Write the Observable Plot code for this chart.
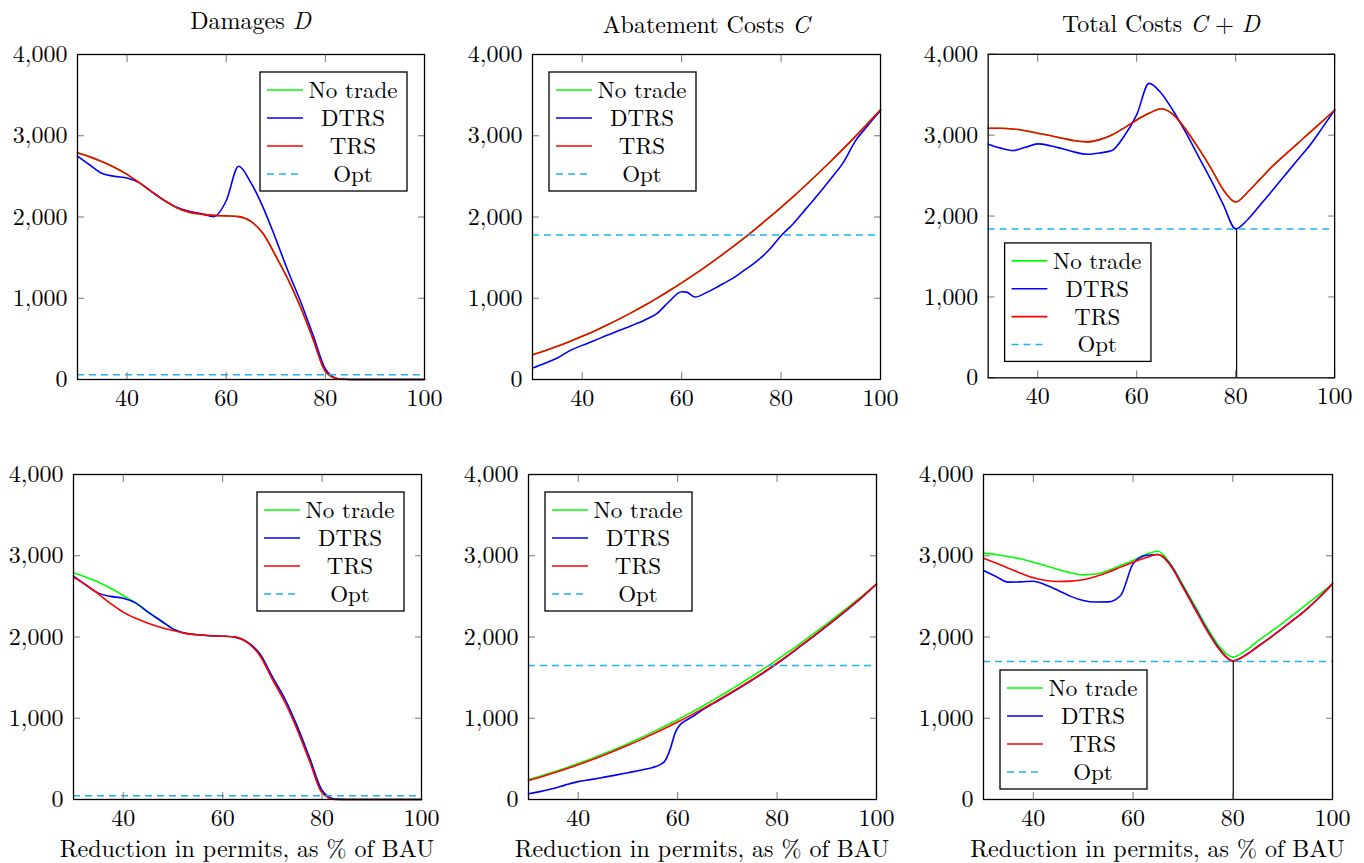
<!DOCTYPE html>
<html><head><meta charset="utf-8">
<script src="https://cdn.jsdelivr.net/npm/d3@7"></script>
<script src="https://cdn.jsdelivr.net/npm/@observablehq/plot@0.6"></script>
<style>
body{margin:0;background:#fff;}
#root{position:relative;width:1364px;height:863px;overflow:hidden;background:#fff;}
.panel{position:absolute;}
#root svg, #root svg text, #root svg tspan{font-family:"Latin Modern Roman","Liberation Serif",serif !important;}
</style></head><body><div id="root"></div>
<script>
// ---------- data ----------
const xTicks = [40, 60, 80, 100];
const yTicks = [0, 1000, 2000, 3000, 4000];
const seriesNames = ["No trade", "DTRS", "TRS", "Opt"];

// Panel 1: Damages D (top)
const p1_x = [30,32.5,35,37.5,40,42.5,45,47.5,50,52.5,55,57.5,60,62.5,65,67.5,70,72.5,75,77.5,80,82.5,85,90,95,100];
const p1_noTrade = [2790,2740,2680,2610,2525,2420,2310,2205,2115,2060,2035,2020,2014,2005,1945,1790,1520,1230,890,500,100,10,0,0,0,0];
const p1_dtrs    = [2750,2640,2535,2500,2480,2420,2310,2205,2120,2070,2040,2005,2200,2625,2420,2110,1730,1330,960,550,130,10,0,0,0,0];
const p1_trs     = [2790,2740,2680,2610,2525,2420,2310,2205,2115,2060,2035,2020,2014,2005,1945,1790,1520,1230,890,500,100,10,0,0,0,0];
const p1_opt = 60;

// Panel 2: Abatement Costs C (top)
const p2_x = [30,32.5,35,37.5,40,42.5,45,47.5,50,52.5,55,57.5,60,62.5,65,67.5,70,72.5,75,77.5,80,82.5,85,87.5,90,92.5,95,97.5,100];
const p2_noTrade = [304,354,409,468,531,598,670,746,826,910,999,1092,1189,1290,1396,1506,1620,1738,1861,1988,2119,2254,2394,2538,2686,2838,2995,3156,3321];
const p2_trs     = [304,354,409,468,531,598,670,746,826,910,999,1092,1189,1290,1396,1506,1620,1738,1861,1988,2119,2254,2394,2538,2686,2838,2995,3156,3321];
const p2_dtrs_x  = [30,32.5,35,37.5,40,42.5,45,47.5,50,52.5,55,57.5,60,61,62.7,65,67.5,70,72.5,75,77.5,80,82.5,85,87.5,90,92.5,95,97.5,100];
const p2_dtrs    = [140,200,265,355,420,480,545,605,665,730,810,960,1080,1075,1015,1070,1150,1235,1340,1450,1590,1770,1920,2100,2280,2470,2670,2940,3130,3310];
const p2_opt = 1780;

// Panel 3: Total Costs C + D (top)
const p3_x = [30,32.5,35,37.5,40,42.5,45,47.5,50,52.5,55,57.5,60,62.5,65,67.5,70,72.5,75,77.5,80,82.5,85,87.5,90,92.5,95,97.5,100];
const p3_noTrade = [3085,3085,3077,3055,3024,2995,2962,2930,2917,2945,3003,3090,3188,3270,3327,3249,3065,2839,2593,2326,2174,2300,2460,2620,2760,2895,3035,3170,3311];
const p3_trs     = [3085,3085,3077,3055,3024,2995,2962,2930,2917,2945,3003,3090,3188,3270,3327,3249,3065,2839,2593,2326,2174,2300,2460,2620,2760,2895,3035,3170,3311];
const p3_dtrs    = [2888,2840,2810,2850,2892,2870,2831,2790,2765,2780,2810,2990,3250,3640,3516,3290,3024,2736,2449,2142,1842,1960,2140,2322,2508,2693,2875,3090,3311];
const p3_opt = 1840;
const p3_optX = 80.2;

// Panel 4: Damages D (bottom)
const p4_x = [30,32.5,35,37.5,40,42.5,45,47.5,50,52.5,55,57.5,60,62.5,65,67.5,70,72.5,75,77.5,80,82.5,85,90,95,100];
const p4_noTrade = [2790,2735,2675,2600,2511,2420,2306,2203,2100,2047,2027,2015,2010,1998,1936,1790,1510,1240,900,510,110,5,0,0,0,0];
const p4_dtrs    = [2750,2640,2540,2500,2478,2420,2306,2203,2100,2047,2027,2015,2010,1998,1936,1790,1510,1240,900,510,110,5,0,0,0,0];
const p4_trs     = [2737,2640,2531,2410,2306,2230,2170,2120,2080,2045,2027,2015,2010,1998,1930,1770,1480,1200,860,470,80,0,0,0,0,0];
const p4_opt = 45;

// Panel 5: Abatement Costs C (bottom)
const p5_x = [30,32.5,35,37.5,40,42.5,45,47.5,50,52.5,55,57.5,60,62.5,65,67.5,70,72.5,75,77.5,80,82.5,85,87.5,90,92.5,95,97.5,100];
const p5_noTrade = [246,290,338,388,442,499,559,622,687,756,829,904,982,1063,1148,1236,1326,1420,1517,1616,1719,1825,1935,2047,2162,2280,2402,2526,2654];
const p5_trs     = [234,278,325,374,427,483,542,604,667,734,805,878,953,1032,1115,1200,1290,1382,1477,1575,1680,1790,1905,2020,2140,2260,2385,2515,2650];
const p5_dtrs_x  = [30,32.5,35,37.5,40,42.5,45,47.5,50,52.5,55,56.5,57.5,58.5,59.5,60.5,62,63.5,65,67.5,70,72.5,75,77.5,80,82.5,85,87.5,90,92.5,95,97.5,100];
const p5_dtrs    = [70,100,135,180,220,245,272,300,330,360,395,430,480,620,820,920,985,1040,1105,1192,1283,1376,1471,1569,1674,1784,1899,2014,2134,2254,2379,2510,2650];
const p5_opt = 1650;

// Panel 6: Total Costs C + D (bottom)
const p6_x = [30,32.5,35,37.5,40,42.5,45,47.5,50,52.5,55,57.5,60,62.5,65,67.5,70,72.5,75,77.5,80,82.5,85,87.5,90,92.5,95,97.5,100];
const p6_noTrade = [3032,3015,2991,2960,2921,2878,2831,2790,2765,2775,2818,2880,2942,3015,3056,2900,2640,2370,2100,1870,1752,1830,1950,2060,2170,2290,2410,2530,2654];
const p6_trs     = [2970,2910,2847,2785,2728,2695,2683,2688,2704,2745,2798,2860,2921,2975,3015,2880,2610,2335,2060,1830,1703,1772,1880,1990,2105,2225,2350,2495,2654];
const p6_dtrs    = [2818,2745,2675,2678,2687,2640,2572,2500,2449,2430,2432,2511,2900,3003,3015,2890,2622,2348,2072,1840,1708,1775,1883,1993,2108,2228,2353,2497,2654];
const p6_opt = 1700;
const p6_optX = 80.1;

// ---------- styling / layout ----------
const GREEN = "#00ff00", BLUE = "#0000ff", RED = "#ff0000", CYAN = "#1fb2ee", TICK = "#777";
const FONT = "Latin Modern Roman, Liberation Serif, serif";
const FS = 24;
const fmt = d3.format(",");

const panels = [
  {frame:[77,424,54,379], title:[["Damages ",false],["D",true]], titleDy:-25,
   series:[[p1_x,p1_noTrade],[p1_x,p1_dtrs],[p1_x,p1_trs]], opt:p1_opt, optX:null, legend:"tr", legendOff:[17,18], xlabel:false},
  {frame:[532,880,54,379], title:[["Abatement Costs ",false],["C",true]], titleDy:-21,
   series:[[p2_x,p2_noTrade],[p2_dtrs_x,p2_dtrs],[p2_x,p2_trs]], opt:p2_opt, optX:null, legend:"tl", legendOff:[17,18], xlabel:false},
  {frame:[988,1336,54,379], title:[["Total Costs ",false],["C",true],[" + ",false],["D",true]], titleDy:-22,
   series:[[p3_x,p3_noTrade],[p3_x,p3_dtrs],[p3_x,p3_trs]], opt:p3_opt, optX:p3_optX, legend:"bl", legendOff:[17,16], xlabel:false},
  {frame:[73,421,474,799], title:null,
   series:[[p4_x,p4_noTrade],[p4_x,p4_dtrs],[p4_x,p4_trs]], opt:p4_opt, optX:null, legend:"tr", legendOff:[17,18], xlabel:true},
  {frame:[528,876,474,799], title:null,
   series:[[p5_x,p5_noTrade],[p5_dtrs_x,p5_dtrs],[p5_x,p5_trs]], opt:p5_opt, optX:null, legend:"tl", legendOff:[17,18], xlabel:true},
  {frame:[983,1332,474,799], title:null,
   series:[[p6_x,p6_noTrade],[p6_x,p6_dtrs],[p6_x,p6_trs]], opt:p6_opt, optX:p6_optX, legend:"bl", legendOff:[17,10], xlabel:true}
];
const colors = [GREEN, BLUE, RED];

const root = document.getElementById("root");
const ml = 72, mr = 30, mt = 50, mb = 64;

for (const p of panels) {
  const [L, R, T, B] = p.frame;
  const fw = R - L, fh = B - T;
  const width = fw + ml + mr, height = fh + mt + mb;
  const marks = [];
  p.series.forEach(([xs, ys], k) => {
    const data = xs.map((x, i) => ({x, y: ys[i]}));
    marks.push(Plot.line(data, {x: "x", y: "y", stroke: colors[k], strokeWidth: 1.6, curve: "monotone-x"}));
  });
  marks.push(Plot.ruleY([p.opt], {stroke: CYAN, strokeWidth: 1.5, strokeDasharray: "7,5"}));
  if (p.optX != null) marks.push(Plot.ruleX([p.optX], {y1: 0, y2: p.opt, stroke: "black", strokeWidth: 1.2}));
  marks.push(
    Plot.axisX({anchor: "bottom", ticks: xTicks, tickSize: -7, tickPadding: 16, stroke: TICK, fill: "black", tickFormat: fmt, label: null}),
    Plot.axisX({anchor: "top", ticks: xTicks, tickSize: -7, stroke: TICK, tickFormat: () => "", label: null}),
    Plot.axisY({anchor: "left", ticks: yTicks, tickSize: -7, tickPadding: 17, stroke: TICK, fill: "black", tickFormat: fmt, label: null}),
    Plot.axisY({anchor: "right", ticks: yTicks, tickSize: -7, stroke: TICK, tickFormat: () => "", label: null}),
    Plot.frame({stroke: "black", strokeWidth: 1.3})
  );
  const plot = Plot.plot({
    width, height, marginLeft: ml, marginRight: mr, marginTop: mt, marginBottom: mb,
    x: {domain: [30, 100], label: null},
    y: {domain: [0, 4000], label: null},
    style: {fontFamily: FONT, fontSize: FS + "px", background: "transparent", overflow: "visible", color: "black"},
    marks
  });
  const svg = d3.select(plot);
  svg.attr("font-family", FONT);
  // drop the empty label texts of the label-less top/right tick rows
  svg.selectAll("text").filter(function () { return this.textContent === ""; }).remove();
  const cx = ml + fw / 2;
  if (p.title) {
    const t = svg.append("text").attr("x", cx).attr("y", mt + p.titleDy)
      .attr("text-anchor", "middle").attr("font-size", FS).attr("font-family", FONT).attr("fill", "black");
    for (const [s, it] of p.title) {
      t.append("tspan").attr("font-style", it ? "italic" : "normal").text(s);
    }
  }
  if (p.xlabel) {
    svg.append("text").attr("x", cx).attr("y", mt + fh + 58)
      .attr("text-anchor", "middle").attr("font-size", FS).attr("font-family", FONT)
      .attr("fill", "black").text("Reduction in permits, as % of BAU");
  }
  // legend box
  const bw = 147, bh = 119;
  const [ox, oy] = p.legendOff;
  const bx = p.legend === "tr" ? ml + fw - ox - bw : ml + ox;
  const by = p.legend === "bl" ? mt + fh - oy - bh : mt + oy;
  const g = svg.append("g").attr("transform", `translate(${bx},${by})`);
  g.append("rect").attr("width", bw).attr("height", bh).attr("fill", "white").attr("stroke", "black").attr("stroke-width", 1.3);
  seriesNames.forEach((name, k) => {
    const yy = 18 + k * 28;
    const ln = g.append("line").attr("x1", 7).attr("x2", k === 3 ? 39 : 43).attr("y1", yy).attr("y2", yy)
      .attr("stroke", k === 3 ? CYAN : colors[k]).attr("stroke-width", 1.6);
    if (k === 3) ln.attr("stroke-dasharray", "7,5");
    g.append("text").attr("x", 93).attr("y", yy).attr("dy", "0.35em").attr("text-anchor", "middle")
      .attr("font-size", 23).attr("font-family", FONT).attr("fill", "black").text(name);
  });
  const div = document.createElement("div");
  div.className = "panel";
  div.style.left = (L - ml) + "px";
  div.style.top = (T - mt) + "px";
  div.appendChild(plot);
  root.appendChild(div);
}
</script>
</body></html>
